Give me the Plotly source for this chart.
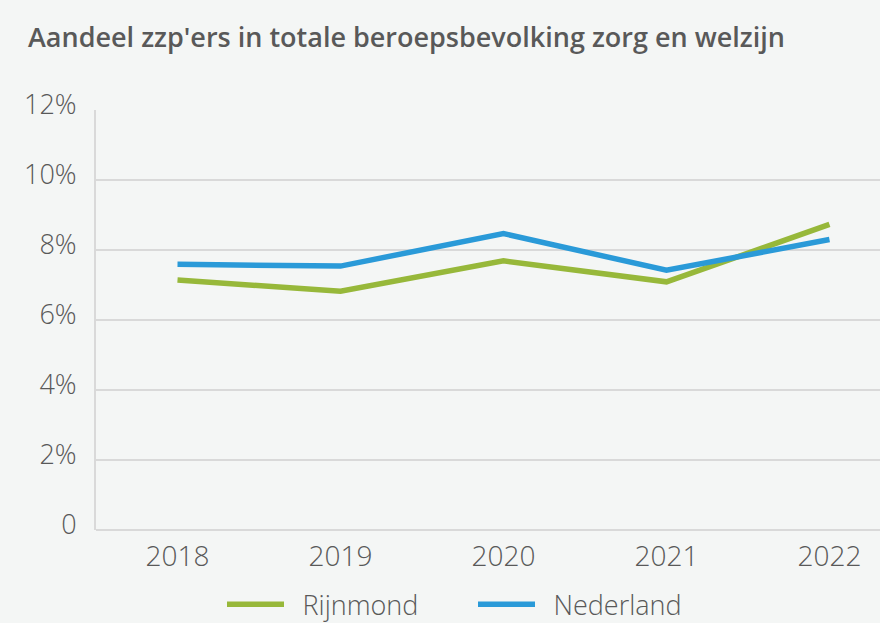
import plotly.graph_objects as go

years = ["2018", "2019", "2020", "2021", "2022"]
rijnmond = [7.14, 6.82, 7.69, 7.09, 8.73]
nederland = [7.59, 7.54, 8.47, 7.42, 8.30]
ytick_vals = [0, 2, 4, 6, 8, 10, 12]
ytick_text = ["0", "2%", "4%", "6%", "8%", "10%", "12%"]
series_names = ["Rijnmond", "Nederland"]

bg = "#f4f6f5"
txt = "#595959"
grid = "#d9d9d9"
fam = "Open Sans"
pad = "\u2002"

fig = go.Figure()
fig.add_trace(go.Scatter(x=years, y=rijnmond, name=pad + series_names[0], mode="lines",
                         line=dict(color="#97b83a", width=5.5)))
fig.add_trace(go.Scatter(x=years, y=nederland, name=pad + series_names[1], mode="lines",
                         line=dict(color="#2a9ad8", width=5.5)))

fig.update_layout(
    width=880, height=623,
    paper_bgcolor=bg, plot_bgcolor=bg,
    margin=dict(l=96, r=0, t=110, b=93, autoexpand=False),
    font=dict(family=fam, color=txt),
    title=dict(text="Aandeel zzp'ers in totale beroepsbevolking zorg en welzijn",
               x=28/880, xanchor="left", y=1-38/623, yanchor="middle",
               font=dict(family=fam, size=27, color=txt, weight=600)),
    showlegend=True,
    legend=dict(orientation="h", x=(222-96)/784, xanchor="left", y=-0.178, yanchor="middle",
                font=dict(family=fam, size=27, color=txt, weight=300), itemwidth=57,
                entrywidth=179, bgcolor="rgba(0,0,0,0)", traceorder="normal"),
    xaxis=dict(type="category", range=[-0.5, 4.31], showgrid=False,
               showline=False, zeroline=False, ticks="", ticklabelstandoff=7,
               tickfont=dict(family=fam, size=28, color=txt, weight=300)),
    yaxis=dict(range=[0, 12], tickvals=ytick_vals, ticktext=ytick_text,
               showgrid=True, gridcolor=grid, gridwidth=2,
               showline=True, linecolor=grid, linewidth=2,
               zeroline=True, zerolinecolor=grid, zerolinewidth=2,
               ticks="", ticklabelstandoff=12, ticklabelshift=-5,
               tickfont=dict(family=fam, size=27, color=txt, weight=300)),
)

fig.write_html("out.html", config={"displayModeBar": False},
               post_script="document.body.style.margin='0';")
